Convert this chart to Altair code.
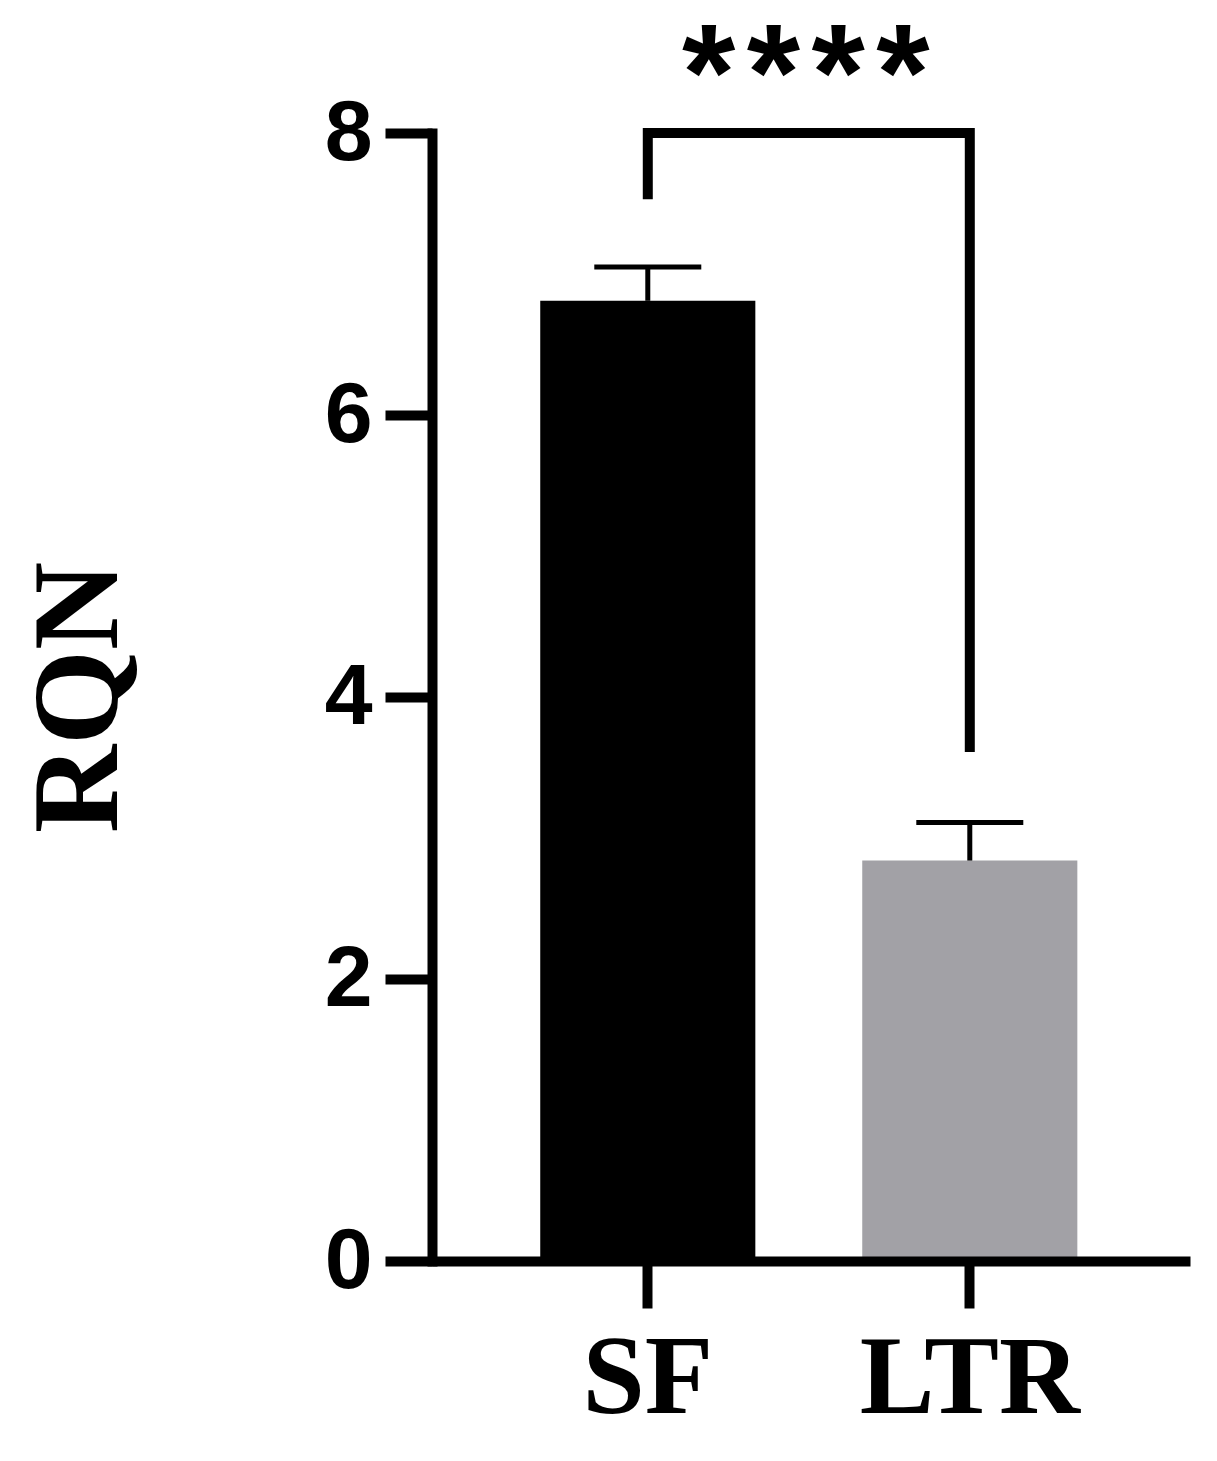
import altair as alt
import pandas as pd

groups = ["SF", "LTR"]
means = [6.81, 2.84]
errors = [0.24, 0.27]
bar_colors = ["#000000", "#a2a1a6"]
bracket_x = ["SF", "SF", "LTR", "LTR"]
bracket_y = [7.53, 8.0, 8.0, 3.61]
y_ticks = [0, 2, 4, 6, 8]
y_title = "RQN"
sig_label = ["*\u200a*\u200a*\u200a*"]
sig_pos = [0.493]
sig_y = [8.09]

df = pd.DataFrame({"group": groups, "mean": means, "err": errors})
df["upper"] = df["mean"] + df["err"]
br = pd.DataFrame({"group": bracket_x, "y": bracket_y, "order": list(range(len(bracket_x)))})
sig = pd.DataFrame({"label": sig_label, "pos": sig_pos, "y": sig_y})

xscale = alt.Scale(domain=groups, paddingInner=0.332, paddingOuter=0.343, align=0.49)
yscale = alt.Scale(domain=[0, 8], nice=False, zero=True)

xaxis = alt.Axis(title=None, labelAngle=0, labelFont="Liberation Serif", labelFontWeight="bold",
                 labelFontSize=112, labelColor="black", labelPadding=16, labelLimit=0,
                 tickSize=47, tickWidth=10, tickColor="black", tickCap="butt",
                 domainColor="black", domainWidth=10, domainCap="butt", zindex=1)
yaxis = alt.Axis(title=y_title, values=y_ticks, format="d", labelFont="Liberation Sans",
                 labelFontWeight="bold", labelFontSize=86, labelColor="black", labelPadding=13,
                 tickSize=47, tickWidth=10, tickColor="black", tickCap="butt",
                 domainColor="black", domainWidth=10, domainCap="square", grid=False,
                 titleFont="Liberation Serif", titleFontWeight="bold", titleFontSize=122,
                 titleColor="black", titleX=-353, titleBaseline="middle", zindex=1)

x = alt.X("group:N", scale=xscale, sort=groups, axis=xaxis)
x_plain = alt.X("group:N", scale=xscale, sort=groups)

bars = alt.Chart(df).mark_bar().encode(
    x=x,
    y=alt.Y("mean:Q", scale=yscale, axis=yaxis),
    color=alt.Color("group:N", scale=alt.Scale(domain=groups, range=bar_colors), legend=None),
)
stems = alt.Chart(df).mark_rule(strokeWidth=5, color="black").encode(
    x=x_plain,
    y=alt.Y("mean:Q", scale=yscale),
    y2="upper:Q",
)
caps = alt.Chart(df).mark_tick(size=107, thickness=5, color="black", opacity=1).encode(
    x=x_plain,
    y=alt.Y("upper:Q", scale=yscale),
)
bracket = alt.Chart(br).mark_line(strokeWidth=10, color="black", strokeJoin="miter", strokeCap="butt").encode(
    x=x_plain,
    y=alt.Y("y:Q", scale=yscale),
    order="order:Q",
)
main = alt.layer(bars, stems, caps, bracket)

stars = alt.Chart(sig).mark_text(font="Liberation Sans", fontSize=137, fontWeight="bold",
                                 color="black", baseline="alphabetic", align="center").encode(
    x=alt.X("pos:Q", scale=alt.Scale(domain=[0, 1]), axis=None),
    y=alt.Y("y:Q", scale=yscale),
    text="label:N",
)

chart = alt.layer(main, stars).resolve_scale(x="independent").properties(
    width=758, height=1128,
    autosize=alt.AutoSizeParams(type="none"),
    padding={"left": 424, "top": 125, "right": 19, "bottom": 190},
).configure_view(stroke=None)

chart.save("out.html", embed_options={"renderer": "svg", "actions": False})
